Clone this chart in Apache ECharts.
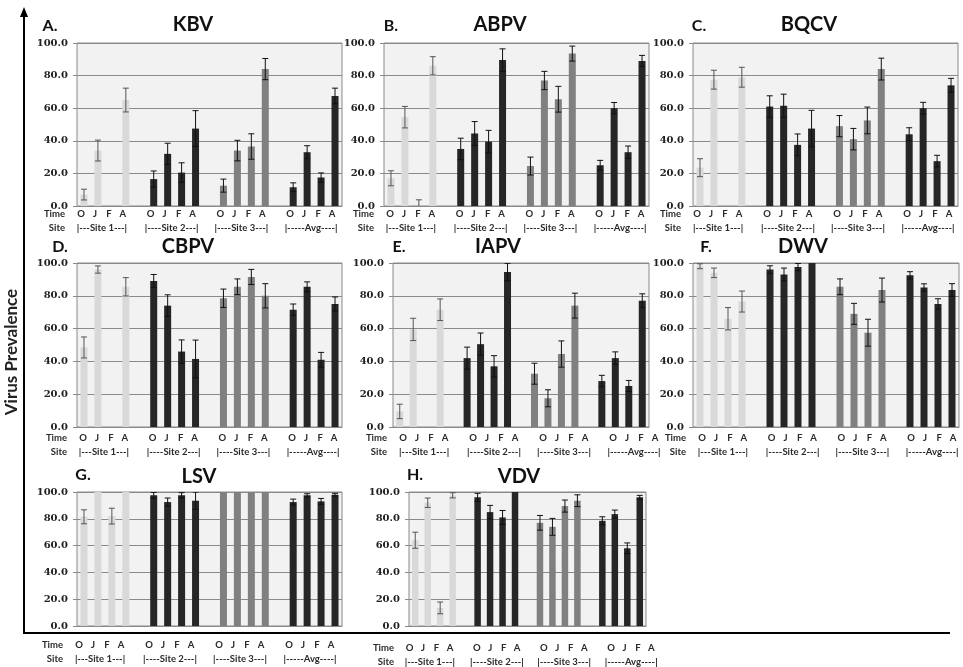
<!DOCTYPE html>
<html><head><meta charset="utf-8">
<script src="https://cdn.jsdelivr.net/npm/echarts@6/dist/echarts.min.js"></script>
<style>html,body{margin:0;padding:0;background:#fff}#c{width:963px;height:667px}</style>
</head><body><div id="c"></div>
<script>
// ---- data ----
const timeLabels = ['O','J','F','A'];
const siteLabels = ['|---Site 1---|','|----Site 2---|','|----Site 3---|','|-----Avg----|'];
const viruses = ['KBV','ABPV','BQCV','CBPV','IAPV','DWV','LSV','VDV'];
const panelLetters = ['A.','B.','C.','D.','E.','F.','G.','H.'];
const yTicks = [0,20,40,60,80,100];
// order: Site1 O J F A, Site2 O J F A, Site3 O J F A, Avg O J F A
const kbvMean  = [7,34,0,65, 16.5,32,20.5,47.5, 12.5,34,36.5,84, 11.5,33,17.5,67.5];
const kbvErr   = [3.3,6.4,0,7.3, 5,6.5,6,11, 4,6.3,7.8,6.5, 2.7,4,2.8,4.8];
const abpvMean = [17,54.5,0,86, 35,44.5,39.5,89.5, 24.5,77,65.5,93.5, 25,60,33,89];
const abpvErr  = [4.6,6.6,3.8,5.6, 6.6,7.3,6.9,6.9, 5.5,5.6,7.9,4.6, 3,3.5,3.8,3.4];
const bqcvMean = [23.5,77.5,0,79, 61,61.5,37.5,47.5, 49,41,52.5,84, 44,60,27.5,74];
const bqcvErr  = [5.5,5.8,0,6.1, 6.6,7.1,6.7,11.2, 6.5,6.6,8.2,6.7, 4,3.6,3.6,4.3];
const cbpvMean = [48.5,96,0,85.5, 89,74,46,41.5, 78.5,85.5,91.5,80, 71.5,85.5,41,75];
const cbpvErr  = [6.4,2.2,0,5.6, 4,6.6,7.1,11.5, 5.6,4.8,4.6,7.4, 3.5,3,4.5,4.3];
const iapvMean = [9.5,59.5,0,71.5, 42,50.5,37,94.5, 32.5,17.5,44.5,74, 28,42,25,77];
const iapvErr  = [4.4,6.8,0,6.6, 6.7,6.8,6.5,5.3, 6.4,5.2,8,7.6, 3.5,3.8,3.4,4.2];
const dwvMean  = [98,94,66,76.5, 96,93,97.5,100, 85.5,69,57.5,83.5, 92.5,85,75,83.5];
const dwvErr   = [1.5,2.9,6.8,6.4, 2.3,3.9,2.2,0, 4.8,6.4,8.2,7.3, 2.2,2.3,3.2,3.9];
const lsvMean  = [81.5,100,82,100, 97.5,92.5,97.5,93.5, 100,100,100,100, 92.5,97.5,93,98];
const lsvErr   = [5.2,0,5.9,0, 2.2,3,2,6.5, 0,0,0,0, 2.2,1.2,2.2,1];
const vdvMean  = [64,92,13.5,97.5, 96,85,81,100, 77,74,89.5,93.5, 78.5,83.5,58,96];
const vdvErr   = [6,3.5,4.4,1.9, 3,5,5.2,0, 5.5,6.3,4.5,4.4, 3,3,4,1.5];

const means = [kbvMean,abpvMean,bqcvMean,cbpvMean,iapvMean,dwvMean,lsvMean,vdvMean];
const errs  = [kbvErr,abpvErr,bqcvErr,cbpvErr,iapvErr,dwvErr,lsvErr,vdvErr];

// ---- layout & style ----
const layout = [
  {l:77, t:43, w:265,h:163, ll:74, lw:265, ly:206, tx:193, ty:25, px:50, py:26},
  {l:384,t:43, w:265,h:163, ll:383,lw:265, ly:206, tx:500, ty:25, px:391,py:26},
  {l:693,t:43, w:265,h:163, ll:690,lw:266, ly:206, tx:809, ty:25, px:699,py:26},
  {l:77, t:263,w:265,h:164, ll:76, lw:265, ly:430, tx:188, ty:247,px:60, py:247},
  {l:393,t:263,w:256,h:164, ll:396,lw:266, ly:430, tx:498, ty:247,px:399,py:247},
  {l:693,t:263,w:266,h:164, ll:695,lw:266, ly:430, tx:803, ty:247,px:706,py:247},
  {l:77, t:492,w:265,h:134, ll:72, lw:266, ly:637, tx:199, ty:477,px:83, py:475},
  {l:409,t:492,w:237,h:134, ll:403,lw:255, ly:641, tx:519, ty:477,px:415,py:475}
];
const groupColors = ['#d9d9d9','#262626','#808080','#262626'];
const errColors = ['#555555','#111111','#111111','#111111'];
const lblFont = {fontFamily:'Lato', fontWeight:'bold', fontSize:9.5, color:'#2a2a2a'};

const slotCats = [], timeRow = [], siteRow = [];
for (let s=0;s<19;s++){ slotCats.push(String(s)); timeRow.push(s%5===4 ? '' : timeLabels[s%5]); }
for (let k=0;k<39;k++){ siteRow.push(''); }
[4,14,24,34].forEach((k,g)=>{ siteRow[k]=siteLabels[g]; });

const grids=[], xAxes=[], yAxes=[], series=[], graphics=[];
for (let i=0;i<8;i++){
  const L = layout[i];
  grids.push({left:L.l, top:L.t, width:L.w, height:L.h, show:true, backgroundColor:'#f2f2f2', borderColor:'#8a8a8a', borderWidth:1});
  grids.push({left:L.ll, top:L.ly-1, width:L.lw, height:1});
  xAxes.push({gridIndex:2*i, type:'category', data:slotCats, axisLabel:{show:false}, axisTick:{show:false},
    axisLine:{lineStyle:{color:'#8a8a8a'}}});
  xAxes.push({gridIndex:2*i+1, type:'category', position:'bottom', data:timeRow, axisLine:{show:false}, axisTick:{show:false},
    axisLabel:Object.assign({interval:0, margin:3}, lblFont),
    name:'Time', nameLocation:'start', nameGap:9,
    nameTextStyle:Object.assign({verticalAlign:'top', padding:[3,0,0,0]}, lblFont)});
  xAxes.push({gridIndex:2*i+1, type:'category', position:'bottom', boundaryGap:false, data:siteRow, offset:14,
    axisLine:{show:false}, axisTick:{show:false},
    axisLabel:Object.assign({interval:0, margin:3}, lblFont),
    name:'Site', nameLocation:'start', nameGap:9,
    nameTextStyle:Object.assign({verticalAlign:'top', padding:[3,0,0,0]}, lblFont)});
  yAxes.push({gridIndex:2*i, type:'value', min:yTicks[0], max:yTicks[yTicks.length-1], interval:yTicks[1]-yTicks[0],
    axisLabel:{formatter:v=>v.toFixed(1), fontFamily:'DejaVu Serif', fontWeight:'bold', fontSize:10, color:'#222', margin:9},
    splitLine:{lineStyle:{color:'#8a8a8a', width:1}}, axisLine:{show:false},
    axisTick:{show:true, length:4, lineStyle:{color:'#8a8a8a'}}});
  yAxes.push({gridIndex:2*i+1, type:'value', show:false, min:0, max:1});

  const barData=[], errData=[];
  for (let s=0;s<19;s++){
    if (s%5===4){ barData.push(null); continue; }
    const g=Math.floor(s/5), idx=g*4+s%5;
    barData.push({value:means[i][idx], itemStyle:{color:groupColors[g]}});
    if (errs[i][idx]>0) errData.push([s, means[i][idx], errs[i][idx], g]);
  }
  series.push({type:'bar', xAxisIndex:3*i, yAxisIndex:2*i, barWidth:(i===7?6.5:7), data:barData, animation:false});
  series.push({type:'custom', xAxisIndex:3*i, yAxisIndex:2*i, data:errData, clip:true, animation:false, z:5,
    encode:{x:0,y:1},
    renderItem:function(params, api){
      const x=api.value(0), m=api.value(1), e=api.value(2), g=api.value(3);
      const top=api.coord([x, m+e]), bot=api.coord([x, m-e]);
      const hw=3, c=errColors[g];
      const st={stroke:c, lineWidth:1};
      return {type:'group', children:[
        {type:'line', shape:{x1:top[0],y1:top[1],x2:bot[0],y2:bot[1]}, style:st},
        {type:'line', shape:{x1:top[0]-hw,y1:top[1],x2:top[0]+hw,y2:top[1]}, style:st},
        {type:'line', shape:{x1:bot[0]-hw,y1:bot[1],x2:bot[0]+hw,y2:bot[1]}, style:st}
      ]};
    }});

  graphics.push({type:'text', x:L.tx, y:L.ty, style:{text:viruses[i], font:'bold 20px Lato', fill:'#111',
    align:'center', verticalAlign:'middle', textAlign:'center', textVerticalAlign:'middle'}});
  graphics.push({type:'text', x:L.px, y:L.py, style:{text:panelLetters[i], font:'bold 16px Lato', fill:'#111',
    align:'center', verticalAlign:'middle', textAlign:'center', textVerticalAlign:'middle'}});
}
// figure-level axes
graphics.push({type:'polyline', shape:{points:[[24,14],[24,633],[950,633]]}, style:{stroke:'#000', lineWidth:2, fill:null}});
graphics.push({type:'polygon', shape:{points:[[24,7],[20,17],[28,17]]}, style:{fill:'#000'}});
graphics.push({type:'text', x:12, y:352, rotation:Math.PI/2, style:{text:'Virus Prevalence', font:'bold 17px Lato', fill:'#222',
  align:'center', verticalAlign:'middle', textAlign:'center', textVerticalAlign:'middle'}});

const chart = echarts.init(document.getElementById('c'), null, {renderer:'canvas'});
chart.setOption({animation:false, backgroundColor:'#fff', grid:grids, xAxis:xAxes, yAxis:yAxes, series:series, graphic:graphics});
</script></body></html>
